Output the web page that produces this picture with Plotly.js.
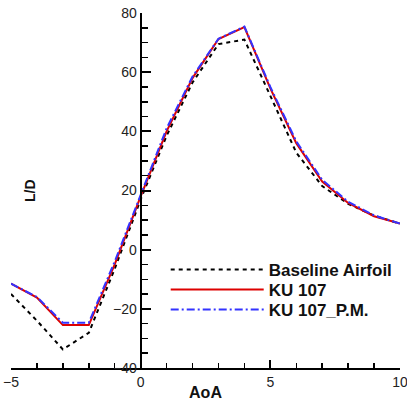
<!DOCTYPE html>
<html>
<head>
<meta charset="utf-8">
<script src="https://cdn.plot.ly/plotly-3.0.1.min.js"></script>
<style>html,body{margin:0;padding:0;background:#fff;}#chart{width:407px;height:401px;}</style>
</head>
<body>
<div id="chart"></div>
<script>
const aoa = [-5, -4, -3, -2, -1, 0, 1, 2, 3, 4, 5, 6, 7, 8, 9, 10];
const baseline = [-15, -24, -33.7, -28.1, -6.5, 17, 38.5, 56.5, 69.5, 71, 52, 32.8, 21.5, 15.5, 11.5, 8.8];
const ku107 = [-11.5, -16.2, -25.5, -25.5, -5, 18, 40, 58, 71.2, 75.2, 54.5, 36, 23, 15.8, 11.3, 8.8];
const ku107pm = [-11.5, -16, -24.7, -24.7, -4, 18.5, 41, 58.5, 71.3, 75.4, 55, 36.6, 23.6, 16.2, 11.6, 8.8];
const seriesNames = ['Baseline Airfoil', 'KU 107', 'KU 107_P.M.'];

const font = 'Arial, "Liberation Sans", sans-serif';
const traces = [
  {x: aoa, y: baseline, name: seriesNames[0], legend: 'legend', mode: 'lines', line: {color: '#000000', width: 2, dash: '4px,4px'}},
  {x: aoa, y: ku107, name: seriesNames[1], legend: 'legend2', mode: 'lines', line: {color: '#dd0000', width: 2}},
  {x: aoa, y: ku107pm, name: seriesNames[2], legend: 'legend3', mode: 'lines', line: {color: '#3333ff', width: 2, dash: '8px,3px,2px,3px'}}
];

function legendAt(yPx) {
  return {
    x: 0.39 + 3 / 389, y: (368 - yPx) / 355, xanchor: 'left', yanchor: 'middle',
    bgcolor: 'rgba(0,0,0,0)', borderwidth: 0,
    font: {family: font, size: 17, color: '#111111', weight: 'bold'},
    itemwidth: 93
  };
}

const layout = {
  width: 407, height: 401,
  margin: {l: 11, r: 7, t: 13, b: 33},
  paper_bgcolor: '#ffffff', plot_bgcolor: '#ffffff',
  font: {family: font, size: 14, color: '#222222'},
  showlegend: true,
  legend: legendAt(270),
  legend2: legendAt(290),
  legend3: legendAt(310),
  xaxis: {
    range: [-5, 10], dtick: 5, tick0: 0,
    showgrid: false, zeroline: false,
    showline: true, linecolor: '#000000', linewidth: 2,
    ticks: 'inside', ticklen: 8, tickwidth: 2, tickcolor: '#000000',
    minor: {dtick: 1, ticks: 'inside', ticklen: 5, tickwidth: 1.5, tickcolor: '#000000', showgrid: false},
    tickfont: {family: font, size: 14, color: '#222222'},
    ticklabeloverflow: 'allow',
    title: {text: '<b>AoA</b>', font: {family: font, size: 16, color: '#111111'}, standoff: 4},
    fixedrange: true
  },
  yaxis: {
    range: [-40, 80], dtick: 20, tick0: 0,
    anchor: 'free', position: 1/3,
    showgrid: false, zeroline: false,
    showline: true, linecolor: '#000000', linewidth: 2,
    ticks: 'inside', ticklen: 9, tickwidth: 2, tickcolor: '#000000',
    minor: {dtick: 5, ticks: 'inside', ticklen: 6, tickwidth: 1.5, tickcolor: '#000000', showgrid: false},
    tickfont: {family: font, size: 14, color: '#222222'},
    ticklabeloverflow: 'allow',
    title: {text: ''},
    fixedrange: true
  },
  annotations: [
    {text: '<b>L/D</b>', xref: 'paper', yref: 'paper', x: (30 - 11) / 389, y: (368 - 191) / 355, showarrow: false,
     textangle: -90, font: {family: font, size: 14, color: '#111111'}, xanchor: 'center', yanchor: 'middle'}
  ]
};

Plotly.newPlot('chart', traces, layout, {displayModeBar: false, staticPlot: true});
</script>
</body>
</html>
